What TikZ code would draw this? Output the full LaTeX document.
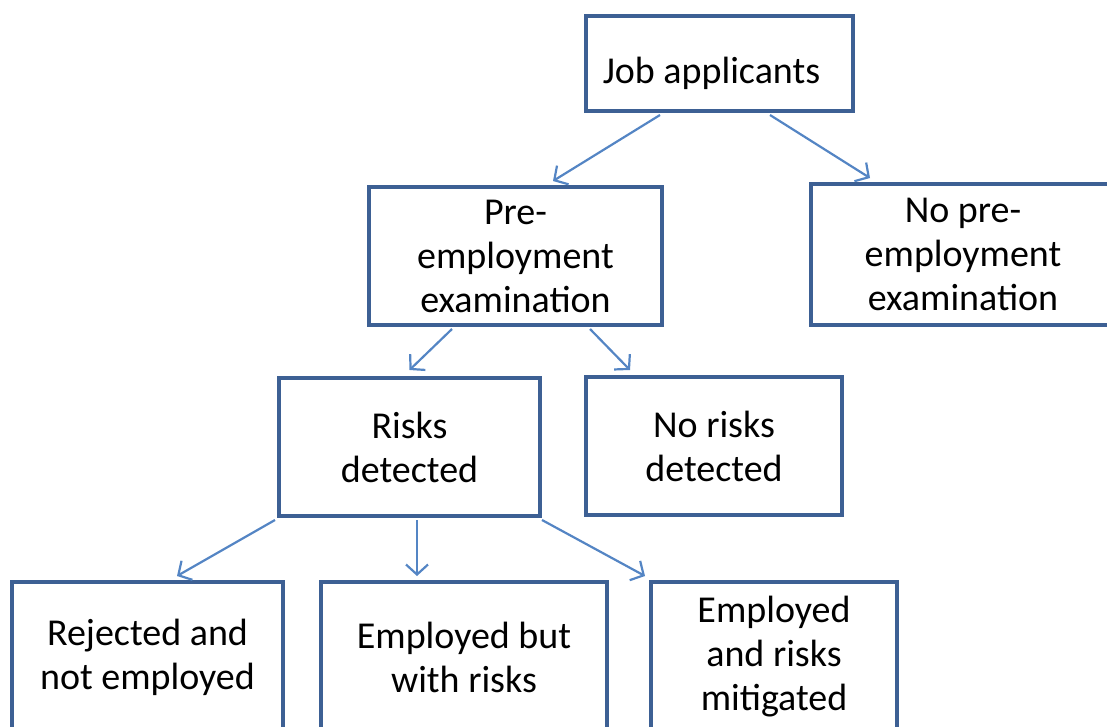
\documentclass[tikz,border=0pt]{standalone}
\usepackage{fontspec}
\setmainfont{Carlito}
\usetikzlibrary{arrows.meta}
\definecolor{boxblue}{HTML}{3D6094}
\definecolor{arrowblue}{HTML}{5485C4}
\begin{document}
\begin{tikzpicture}[
        x = 1pt, y = -1pt,
        > = {Straight Barb[length=10pt, width=22pt]},
        box/.style = {draw = boxblue, line width = 4pt, align = center, inner sep = 0pt,
            font = \fontsize{38}{44}\selectfont},
        link/.style = {->, draw = arrowblue, line width = 2.2pt}
    ]
        \useasboundingbox (0,0) rectangle (1107,726);
        \clip (0,0) rectangle (1107,726);
        \node[box, minimum width = 267pt, minimum height = 95pt, text height = 48pt, text depth = 8pt] (job) at (719.5,63.5) {Job applicants\hspace{16pt}};
        \node[box, minimum width = 293pt, minimum height = 138pt] (pre) at (515.5,256) {Pre-\\employment\\examination};
        \node[box, minimum width = 304pt, minimum height = 141pt] (nopre) at (963,254.5) {No pre-\\employment\\examination};
        \node[box, minimum width = 261pt, minimum height = 138pt] (risk) at (409.5,447) {Risks\\detected};
        \node[box, minimum width = 256pt, minimum height = 138pt] (norisk) at (714,446) {No risks\\detected};
        \node[box, minimum width = 271pt, minimum height = 150pt] (rej) at (147.5,657) {Rejected and\\not employed};
        \node[box, minimum width = 286pt, minimum height = 150pt] (emprisk) at (464,657) {Employed but\\with risks};
        \node[box, minimum width = 246pt, minimum height = 150pt] (mitig) at (774,657) {Employed\\and risks\\mitigated};
        % arrows
        \draw[link] ([xshift=-59.5pt, yshift=-2pt]job.south) -- ([xshift=37.5pt, yshift=4pt]pre.north);
        \draw[link] ([xshift=50.5pt, yshift=-2pt]job.south) -- ([xshift=-93pt, yshift=4pt]nopre.north);
        \draw[link] ([xshift=-63.5pt, yshift=-2pt]pre.south) -- ([yshift=6pt]risk.north);
        \draw[link] ([xshift=74.5pt, yshift=-2pt]pre.south) -- ([xshift=-84pt, yshift=5pt]norisk.north);
        \draw[link] ([xshift=-2pt, yshift=-2pt]risk.south west) -- ([xshift=29.5pt, yshift=4pt]rej.north);
        \draw[link] ([xshift=7.5pt, yshift=-2pt]risk.south) -- ([xshift=-47pt, yshift=4pt]emprisk.north);
        \draw[link] ([yshift=-2pt]risk.south east) -- ([xshift=-4pt, yshift=4pt]mitig.north west);
    \end{tikzpicture}
\end{document}
